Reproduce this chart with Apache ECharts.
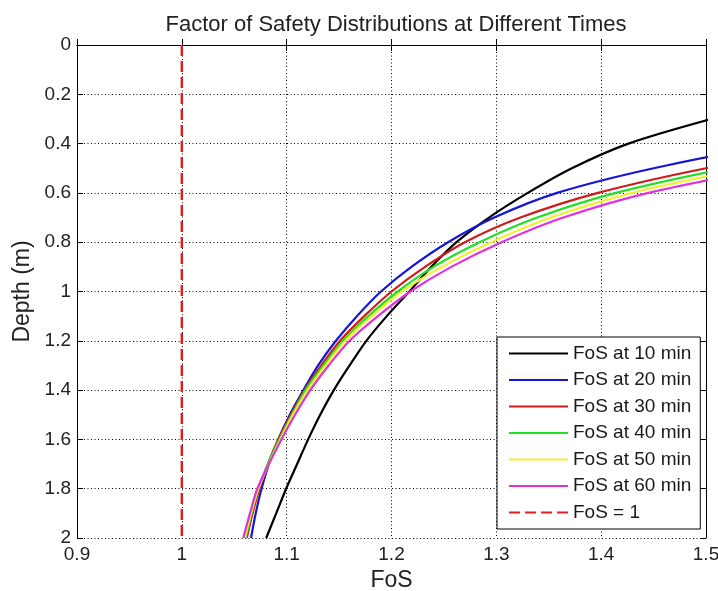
<!DOCTYPE html>
<html>
<head>
<meta charset="utf-8">
<script src="https://cdn.jsdelivr.net/npm/echarts@6/dist/echarts.min.js"></script>
<style>
  html, body { margin: 0; padding: 0; background: #fff; }
  #chart { width: 718px; height: 591px; }
</style>
</head>
<body>
<div id="chart"></div>
<script>
// Depth samples (m) shared by all FoS profiles
const depths = [2.0, 1.9, 1.8, 1.7, 1.6, 1.5, 1.4, 1.3, 1.2, 1.1, 1.0, 0.9, 0.8, 0.7, 0.6, 0.5, 0.4, 0.3];

// Factor of safety at each depth, per elapsed time
const fos10 = [1.0805, 1.090, 1.0995, 1.110, 1.1205, 1.132, 1.145, 1.160, 1.176, 1.1955, 1.217, 1.238, 1.262, 1.293, 1.330, 1.372, 1.426, 1.505];
const fos20 = [1.066, 1.0705, 1.076, 1.083, 1.092, 1.103, 1.116, 1.130, 1.147, 1.167, 1.190, 1.219, 1.254, 1.298, 1.358, 1.450, 1.57, 1.72];
const fos30 = [1.062, 1.0675, 1.074, 1.082, 1.092, 1.104, 1.117, 1.133, 1.151, 1.174, 1.200, 1.232, 1.270, 1.323, 1.397, 1.500, 1.63, 1.79];
const fos40 = [1.061, 1.0665, 1.073, 1.082, 1.093, 1.105, 1.118, 1.135, 1.154, 1.178, 1.206, 1.240, 1.284, 1.339, 1.414, 1.52, 1.65, 1.81];
const fos50 = [1.060, 1.066, 1.073, 1.083, 1.094, 1.106, 1.120, 1.137, 1.156, 1.181, 1.210, 1.248, 1.295, 1.352, 1.430, 1.54, 1.67, 1.83];
const fos60 = [1.0586, 1.065, 1.072, 1.083, 1.095, 1.108, 1.1225, 1.140, 1.160, 1.187, 1.218, 1.257, 1.305, 1.364, 1.445, 1.56, 1.69, 1.85];

const seriesNames = ['FoS at 10 min', 'FoS at 20 min', 'FoS at 30 min',
                     'FoS at 40 min', 'FoS at 50 min', 'FoS at 60 min'];
const seriesValues = [fos10, fos20, fos30, fos40, fos50, fos60];
const seriesColors = ['#000000', '#1515d8', '#d21a1a', '#22e022', '#f0f030', '#e030e0'];

// Limit line FoS = 1 over the full depth range
const limitName = 'FoS = 1';
const limitFos = [1, 1];
const limitDepth = [0, 2];

// Axis ticks
const xTicks = { min: 0.9, max: 1.5, step: 0.1 };
const yTicks = { min: 0, max: 2, step: 0.2 };

const font = 'Liberation Sans, Arial, sans-serif';

const series = seriesNames.map((name, i) => ({
  name: name,
  type: 'line',
  symbol: 'none',
  smooth: 0.3,
  clip: true,
  z: 2 + i,
  lineStyle: { color: seriesColors[i], width: 2.2 },
  itemStyle: { color: seriesColors[i] },
  data: seriesValues[i].map((f, k) => [f, depths[k]])
}));

series.push({
  name: limitName,
  type: 'line',
  symbol: 'none',
  z: 10,
  lineStyle: { color: '#dd2020', width: 2.5, type: [11, 5] },
  itemStyle: { color: '#dd2020' },
  data: limitFos.map((f, k) => [f, limitDepth[k]])
});

const chart = echarts.init(document.getElementById('chart'), null, { renderer: 'canvas' });

const frameAxis = {
  axisLine: { show: true, lineStyle: { color: '#000', width: 1 } },
  axisTick: { show: true, inside: true, length: 6, lineStyle: { color: '#000' } },
  axisLabel: { show: false },
  splitLine: { show: false }
};

const gridDots = { show: true, lineStyle: { color: '#000', width: 1, type: [1, 2.5] } };

chart.setOption({
  animation: false,
  backgroundColor: '#fff',
  title: {
    text: 'Factor of Safety Distributions at Different Times',
    left: 391,
    textAlign: 'center',
    top: 9,
    textStyle: { fontFamily: font, fontSize: 22, fontWeight: 'normal', color: '#222' }
  },
  grid: { left: 77, right: 12, top: 45, bottom: 53, containLabel: false, outerBoundsMode: 'none' },
  legend: {
    orient: 'vertical',
    left: 497,
    top: 337,
    padding: [7, 9, 7, 11],
    itemWidth: 59,
    itemHeight: 14,
    itemGap: 7.5,
    itemStyle: { opacity: 0 },
    backgroundColor: '#fff',
    borderColor: '#000',
    borderWidth: 1,
    borderRadius: 0,
    textStyle: { fontFamily: font, fontSize: 19, color: '#1a1a1a' },
    data: seriesNames.concat([limitName])
  },
  xAxis: [{
    type: 'value',
    min: xTicks.min, max: xTicks.max, interval: xTicks.step,
    name: 'FoS',
    nameLocation: 'middle',
    nameGap: 29,
    nameTextStyle: { fontFamily: font, fontSize: 23, color: '#222' },
    axisLine: { show: true, lineStyle: { color: '#000', width: 1 } },
    axisTick: { show: true, inside: true, length: 6, lineStyle: { color: '#000' } },
    axisLabel: { fontFamily: font, fontSize: 19, color: '#222', margin: 7,
                 formatter: v => String(+v.toFixed(1)) },
    splitLine: gridDots
  }, Object.assign({
    type: 'value', position: 'top',
    min: xTicks.min, max: xTicks.max, interval: xTicks.step
  }, frameAxis)],
  yAxis: [{
    type: 'value',
    inverse: true,
    min: yTicks.min, max: yTicks.max, interval: yTicks.step,
    name: 'Depth (m)',
    nameLocation: 'middle',
    nameGap: 40,
    nameTextStyle: { fontFamily: font, fontSize: 23, color: '#222' },
    axisLine: { show: true, lineStyle: { color: '#000', width: 1 } },
    axisTick: { show: true, inside: true, length: 6, lineStyle: { color: '#000' } },
    axisLabel: { fontFamily: font, fontSize: 19, color: '#222', margin: 6,
                 formatter: v => String(+v.toFixed(1)) },
    splitLine: gridDots
  }, Object.assign({
    type: 'value', position: 'right', inverse: true,
    min: yTicks.min, max: yTicks.max, interval: yTicks.step
  }, frameAxis)],
  series: series
});
</script>
</body>
</html>
